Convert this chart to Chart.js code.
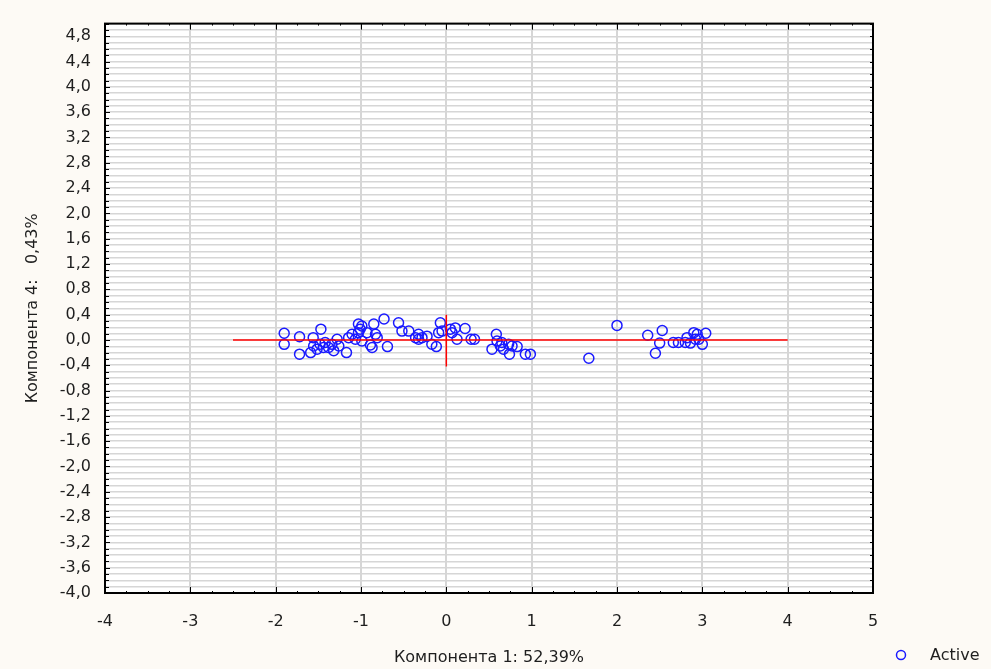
<!DOCTYPE html>
<html>
<head>
<meta charset="utf-8">
<title>Компонента 1 / Компонента 4</title>
<script src="https://cdn.jsdelivr.net/npm/chart.js@4.4.1/dist/chart.umd.min.js"></script>
<style>
  html, body { margin: 0; padding: 0; background: #fdfaf5; }
  #wrap { width: 991px; height: 669px; position: relative; }
</style>
</head>
<body>
<div id="wrap"><canvas id="chart-scatter"></canvas></div>
<script>
// scores of the observations on component 1 and component 4
const activeX = [
  -1.90, -1.90, -1.72, -1.72, -1.56, -1.47, -1.59, -1.555, -1.515, -1.48,
  -1.44, -1.42, -1.38, -1.34, -1.32, -1.28, -1.26, -1.17, -1.145, -1.105,
  -1.066, -1.03, -1.01, -1.03, -0.99, -0.99, -0.93, -0.85, -0.83, -0.81,
  -0.89, -0.87, -0.73, -0.69, -0.56, -0.52, -0.44, -0.36, -0.325, -0.325,
  -0.285, -0.226, -0.17, -0.117, -0.09, -0.07, -0.05, 0.047, 0.105, 0.067,
  0.22, 0.125, 0.29, 0.33, 0.586, 0.594, 0.535, 0.633, 0.67, 0.65,
  0.73, 0.74, 0.83, 0.926, 0.985, 0.77, 1.67, 2.0, 2.36, 2.53,
  2.50, 2.45, 2.66, 2.72, 2.80, 2.82, 2.86, 2.90, 2.94, 2.92,
  3.0, 3.04, 2.96
];
const activeY = [
  0.105, -0.07, 0.05, -0.225, 0.036, 0.17, -0.2, -0.095, -0.146, -0.068,
  -0.12, -0.04, -0.12, -0.07, -0.17, 0.01, -0.095, -0.2, 0.036, 0.09,
  0.01, 0.25, 0.17, 0.115, -0.016, 0.22, 0.115, 0.25, 0.09, 0.036,
  -0.08, -0.12, 0.33, -0.105, 0.27, 0.14, 0.14, 0.036, 0.09, 0.01,
  0.036, 0.06, -0.068, -0.105, 0.115, 0.27, 0.14, 0.17, 0.19, 0.115,
  0.18, 0.01, 0.01, 0.01, 0.09, -0.016, -0.146, -0.095, -0.146, -0.04,
  -0.068, -0.225, -0.105, -0.225, -0.225, -0.095, -0.29, 0.23, 0.074, 0.15,
  -0.05, -0.21, -0.04, -0.04, -0.04, 0.036, -0.05, 0.115, 0.09, 0.01,
  -0.07, 0.105, 0.01
];

// red cross through the origin
const crossX = [-2.5, 4.0];
const crossY = [-0.42, 0.4];

const xTicks = [-4, -3, -2, -1, 0, 1, 2, 3, 4, 5];
const yTicks = [
  -4.0, -3.6, -3.2, -2.8, -2.4, -2.0, -1.6, -1.2, -0.8, -0.4, 0.0,
  0.4, 0.8, 1.2, 1.6, 2.0, 2.4, 2.8, 3.2, 3.6, 4.0, 4.4, 4.8
];

const xTitle = "Компонента 1: 52,39%";
const yTitle = "Компонента 4:   0,43%";

const FONT = "'DejaVu Sans', sans-serif";
const TEXT = "#1e1e1e";
const GRID = "#d6d6d6";

// horizontal grid every 0.1
const yGrid = [];
for (let i = -40; i <= 50; i++) yGrid.push(i / 10);

const isLabelled = (v) => yTicks.some((t) => Math.abs(t - v) < 1e-6);

const points = activeX.map((x, i) => ({ x: x, y: activeY[i] }));

// white plot area, frame, inward tick marks and the legend
const framePlugin = {
  id: "frame",
  beforeDraw(chart) {
    const { ctx, chartArea: a } = chart;
    ctx.save();
    ctx.fillStyle = "#ffffff";
    ctx.fillRect(a.left, a.top, a.right - a.left, a.bottom - a.top);
    ctx.restore();
  },
  afterDraw(chart) {
    const { ctx, chartArea: a } = chart;
    const xs = chart.scales.x;
    const ys = chart.scales.y;
    ctx.save();
    ctx.strokeStyle = "#000";
    ctx.lineWidth = 1;
    ctx.beginPath();
    // left / right ticks
    yGrid.forEach((v, i) => {
      const py = Math.round(ys.getPixelForValue(v)) + 0.5;
      const len = i % 4 === 0 ? 5 : 4;
      ctx.moveTo(a.left, py);
      ctx.lineTo(a.left + len, py);
      if (i % 2 === 0) {
        ctx.moveTo(a.right, py);
        ctx.lineTo(a.right - 3, py);
      }
    });
    // top / bottom ticks every quarter
    for (let q = xTicks[0] * 4; q <= xTicks[xTicks.length - 1] * 4; q++) {
      const px = Math.round(xs.getPixelForValue(q / 4)) + 0.5;
      const len = q % 4 === 0 ? 6 : 2;
      ctx.moveTo(px, a.bottom);
      ctx.lineTo(px, a.bottom - len);
      ctx.moveTo(px, a.top);
      ctx.lineTo(px, a.top + len);
    }
    ctx.stroke();

    ctx.lineWidth = 2;
    ctx.strokeRect(a.left, a.top, a.right - a.left, a.bottom - a.top);

    // legend
    const ds = chart.data.datasets[0];
    ctx.lineWidth = 1.5;
    ctx.strokeStyle = ds.borderColor;
    ctx.beginPath();
    ctx.arc(901, 655, 4.5, 0, Math.PI * 2);
    ctx.stroke();
    ctx.fillStyle = TEXT;
    ctx.font = "16px " + FONT;
    ctx.textBaseline = "middle";
    ctx.fillText(ds.label, 930, 656);
    ctx.restore();
  },
};

const ctx = document.getElementById("chart-scatter");
const chart = new Chart(ctx, {
  type: "scatter",
  data: {
    datasets: [
      {
        label: "Active",
        data: points,
        pointStyle: "circle",
        pointRadius: 5,
        pointBorderWidth: 1.5,
        borderColor: "#1a1aff",
        backgroundColor: "rgba(0,0,0,0)",
        order: 1,
      },
      {
        label: "cross-h",
        type: "line",
        data: crossX.map((x) => ({ x: x, y: 0 })),
        borderColor: "#ff0000",
        borderWidth: 1.5,
        pointRadius: 0,
        order: 0,
      },
      {
        label: "cross-v",
        type: "line",
        data: crossY.map((y) => ({ x: 0, y: y })),
        borderColor: "#ff0000",
        borderWidth: 1.5,
        pointRadius: 0,
        order: 0,
      },
    ],
  },
  options: {
    responsive: true,
    maintainAspectRatio: false,
    animation: false,
    layout: { padding: { left: 0, top: 22, right: 118, bottom: 0 } },
    plugins: {
      legend: { display: false },
      tooltip: { enabled: false },
    },
    scales: {
      x: {
        type: "linear",
        min: -4,
        max: 5,
        afterBuildTicks: (axis) => {
          axis.ticks = xTicks.map((v) => ({ value: v }));
        },
        afterFit: (axis) => {
          axis.height = 76;
        },
        grid: { color: GRID, lineWidth: 2, drawTicks: false },
        border: { display: false },
        ticks: {
          padding: 19,
          color: TEXT,
          font: { family: FONT, size: 16 },
          callback: (v) => String(v),
        },
        title: {
          display: true,
          text: xTitle,
          color: TEXT,
          font: { family: FONT, size: 16 },
          padding: { top: 0, bottom: 2 },
        },
      },
      y: {
        type: "linear",
        min: -4,
        max: 5,
        afterBuildTicks: (axis) => {
          axis.ticks = yGrid.map((v) => ({ value: v }));
        },
        afterFit: (axis) => {
          axis.width = 105;
        },
        grid: { color: GRID, lineWidth: 1.5, drawTicks: false },
        border: { display: false },
        ticks: {
          autoSkip: false,
          padding: 14,
          color: TEXT,
          font: { family: FONT, size: 16 },
          callback: (v) => (isLabelled(v) ? v.toFixed(1).replace(".", ",") : ""),
        },
        title: {
          display: true,
          text: yTitle,
          color: TEXT,
          font: { family: FONT, size: 16 },
          padding: { top: 23, bottom: 0 },
        },
      },
    },
  },
  plugins: [framePlugin],
});
</script>
</body>
</html>
